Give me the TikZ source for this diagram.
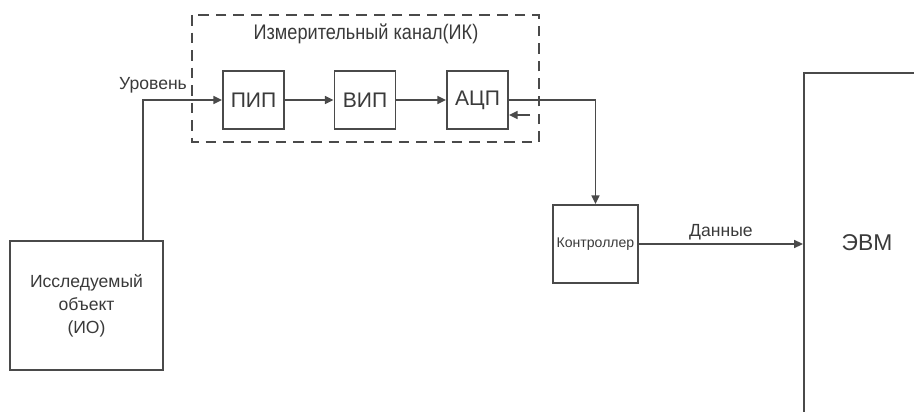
\documentclass[tikz,border=0pt]{standalone}
\usepackage{fontspec}
\setmainfont{Liberation Sans}
\newfontfamily\narrowsans[FakeStretch=0.86]{Liberation Sans}
\usetikzlibrary{arrows.meta,positioning}
\definecolor{LineGray}{HTML}{4A4A4A}
\definecolor{TextGray}{HTML}{3A3A3A}

\begin{document}
\begin{tikzpicture}[x=0.02cm, y=-0.02cm,
    >={Triangle[length=5pt,width=4.5pt]},
    blk/.style={draw=LineGray, line width=1pt, fill=white, text=TextGray,
                minimum width=1.22cm, minimum height=1.16cm, inner sep=1pt, font=\large},
    wire/.style={draw=LineGray, line width=1pt},
    lbl/.style={text=TextGray, inner sep=1pt}]
    \useasboundingbox (0,0) rectangle (914,412);

    % Measuring channel frame
    \draw[LineGray, line width=1pt, dash pattern=on 6pt off 4pt] (192,15) rectangle (539,142);
    \node[lbl, font=\large\narrowsans] (chantitle) at (366,34) {Измерительный канал(ИК)};

    % Channel blocks
    \node[blk] (pip) at (253.5,100) {ПИП};
    \node[blk] (vip) at (365,100) {ВИП};
    \node[blk] (adc) at (477.5,100) {АЦП};

    % Object, controller, computer
    \node[blk, minimum width=3.06cm, minimum height=2.58cm, align=center, font=\normalsize,
          text width=2.9cm] (obj) at (86.5,305.5) {Исследуемый\\[1pt] объект\\[1pt] (ИО)};
    \node[blk, minimum width=1.7cm, minimum height=1.56cm, font=\footnotesize] (ctrl) at (595.5,244) {Контроллер};
    \node[draw=LineGray, line width=1pt, minimum width=2.6cm, minimum height=7.0cm,
          anchor=north west] (evm) at (803,72) {};
    \node[lbl, font=\fontsize{13}{15}\selectfont] (evmtxt) at (867,243) {ЭВМ};

    % Signal path
    \draw[wire, ->] ([xshift=-0.42cm]obj.north east) |- (pip.west);
    \node[lbl, anchor=south east] (level) at (189,95) {Уровень};
    \draw[wire, ->] (pip) -- (vip);
    \draw[wire, ->] (vip) -- (adc);
    \draw[wire, ->] (adc.east) -| (ctrl.north);
    \coordinate (fb) at (530,115);
    \draw[wire, ->] (fb) -- (fb -| adc.east);
    \draw[wire, ->] (ctrl.east) -- (ctrl.east -| evm.west)
        node[lbl, midway, above=1pt] (data) {Данные};

\end{tikzpicture}
\end{document}
